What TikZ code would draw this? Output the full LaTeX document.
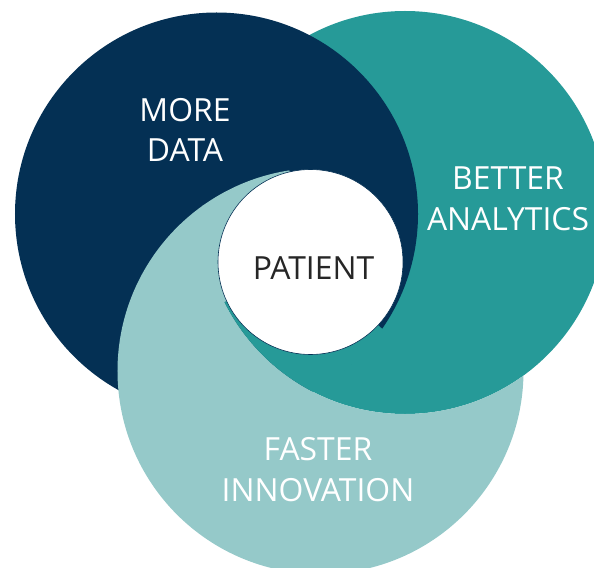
\documentclass[tikz,border=0pt]{standalone}
\usepackage{fontspec}
\setmainfont{Open Sans}
\definecolor{navyblue}{HTML}{043054}
\definecolor{tealmid}{HTML}{269A98}
\definecolor{teallight}{HTML}{95C9C9}
\definecolor{textgray}{HTML}{262626}
\newcommand{\Pt}[1]{({310.5+400*cos(#1)},{262-400*sin(#1)})}
\begin{document}
\begin{tikzpicture}[x=1bp,y=-1bp,
  lbl/.style={text=white,align=center,font=\fontsize{32}{41}\selectfont,inner sep=0pt},
  centerlbl/.style={text=textgray,font=\fontsize{32}{41}\selectfont,inner sep=0pt}]
\useasboundingbox (0,0) rectangle (594,568);
% circle paths
\def\navypath{(216.5,214) circle[radius=201.5bp]}
\def\navybig{(216.5,214) circle[radius=202.5bp]}
\def\tealpath{(405,212.5) circle[radius=201.5bp]}
\def\tealbig{(405,212.5) circle[radius=202.5bp]}
\def\ltpath{(320.5,371) circle[radius=203bp]}
% base layers
\fill[tealmid] \tealpath;
\fill[navyblue] \navypath;
\begin{scope}[even odd rule]
  \clip (-20,-20) rectangle (620,600) \tealpath;
  \fill[teallight] \ltpath;
\end{scope}
% region common to all three circles: light-teal part
\begin{scope}
  \clip \ltpath;
  \clip \navypath;
  \clip \tealbig;
  \fill[teallight] (310.5,262) -- \Pt{103} -- \Pt{154} -- \Pt{205} -- cycle;
\end{scope}
% region common to all three circles: teal part
\begin{scope}
  \clip \ltpath;
  \clip \tealpath;
  \clip \navybig;
  \fill[tealmid] (310.5,262) -- \Pt{205} -- \Pt{261} -- \Pt{317} -- cycle;
\end{scope}
\fill[white,draw=navyblue,line width=0.6bp] (310.5,262) circle[radius=92.5bp];
% labels
\node[lbl] (moredata) at (185,130) {MORE\\DATA};
\node[lbl] (better) at (508,199) {BETTER\\ANALYTICS};
\node[lbl] (faster) at (318,470) {FASTER\\INNOVATION};
\node[centerlbl] (patient) at (313.5,268.5) {PATIENT};
\end{tikzpicture}
\end{document}
